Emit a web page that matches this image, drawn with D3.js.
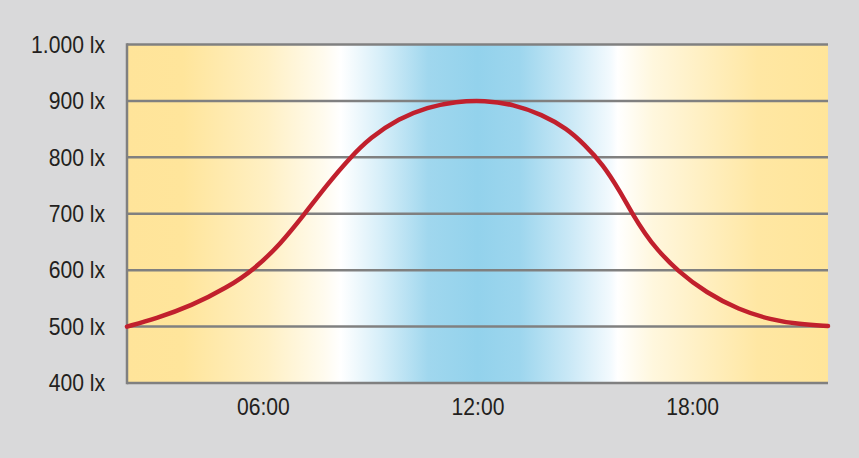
<!DOCTYPE html>
<html>
<head>
<meta charset="utf-8">
<script src="https://cdn.jsdelivr.net/npm/d3@7"></script>
<style>
  body { margin: 0; background: #d9d9da; }
  svg { display: block; }
</style>
</head>
<body>
<script>
// data: hours of the day and illuminance in lux
var hours = [2.2, 3.0, 4.0, 5.0, 5.77, 6.5, 7.17, 7.8, 8.43, 9.0, 9.8, 10.6, 11.4, 12.2,
             13.0, 13.8, 14.5, 15.0, 15.5, 16.0, 16.3, 16.7, 17.0, 17.6, 18.4, 19.3, 20.2, 21.0, 21.8];
var lux = [500, 514, 537, 569, 602, 647, 700, 752, 799, 835, 869, 889, 899, 901,
           894, 876, 851, 822, 788, 738, 703, 663, 638, 598, 560, 530, 512, 504, 501];

var xTicks = [6, 12, 18];
var xTickLabels = ["06:00", "12:00", "18:00"];
var yTicks = [400, 500, 600, 700, 800, 900, 1000];
var yTickLabels = ["400 lx", "500 lx", "600 lx", "700 lx", "800 lx", "900 lx", "1.000 lx"];

function init()
{
    var w = 859;
    var h = 458;
    var margin = {top: 44.5, right: 31, bottom: 75, left: 127};

    var svg = d3.select("body")
                .append("svg")
                .attr("width", w)
                .attr("height", h);

    var x = d3.scaleLinear()
              .domain([2.2, 21.8])
              .range([margin.left, w - margin.right]);

    var y = d3.scaleLinear()
              .domain([400, 1000])
              .range([h - margin.bottom, margin.top]);

    // daylight colour band behind the plot
    var grad = svg.append("defs")
                  .append("linearGradient")
                  .attr("id", "sky")
                  .attr("x1", "0%").attr("x2", "100%")
                  .attr("y1", "0%").attr("y2", "0%");

    var stops = [
        [0.00, "#ffe49a"], [0.08, "#ffe59b"], [0.20, "#fff0c4"], [0.28, "#fffbee"],
        [0.305, "#ffffff"], [0.36, "#d8eff9"], [0.43, "#a0d7ee"], [0.50, "#93d2ec"],
        [0.56, "#9dd6ee"], [0.63, "#c9e8f6"], [0.69, "#f3fafe"], [0.70, "#ffffff"],
        [0.75, "#fff7de"], [0.90, "#ffe7a3"], [1.00, "#ffe59a"]
    ];
    grad.selectAll("stop")
        .data(stops)
        .enter()
        .append("stop")
        .attr("offset", function(d) { return d[0]; })
        .attr("stop-color", function(d) { return d[1]; });

    svg.append("rect")
       .attr("x", x.range()[0])
       .attr("y", y(1000))
       .attr("width", x.range()[1] - x.range()[0])
       .attr("height", y(400) - y(1000))
       .attr("fill", "url(#sky)");

    // horizontal grid lines
    svg.selectAll("line.grid")
       .data(yTicks)
       .enter()
       .append("line")
       .attr("class", "grid")
       .attr("x1", x.range()[0])
       .attr("x2", x.range()[1])
       .attr("y1", function(d) { return y(d); })
       .attr("y2", function(d) { return y(d); })
       .attr("stroke", "#808080")
       .attr("stroke-width", 2.5);

    // left axis line
    svg.append("line")
       .attr("x1", x.range()[0])
       .attr("x2", x.range()[0])
       .attr("y1", y(1000) - 1.25)
       .attr("y2", y(400) + 1.25)
       .attr("stroke", "#808080")
       .attr("stroke-width", 2.5);

    // y labels
    var yAxis = d3.axisLeft(y)
                  .tickValues(yTicks)
                  .tickFormat(function(d, i) { return yTickLabels[i]; })
                  .tickSize(0)
                  .tickPadding(22);

    var gy = svg.append("g")
                .attr("transform", "translate(" + x.range()[0] + ",0)")
                .call(yAxis);
    gy.select(".domain").remove();

    // x labels
    var xAxis = d3.axisBottom(x)
                  .tickValues(xTicks)
                  .tickFormat(function(d, i) { return xTickLabels[i]; })
                  .tickSize(0)
                  .tickPadding(15);

    var gx = svg.append("g")
                .attr("transform", "translate(0," + y(400) + ")")
                .call(xAxis);
    gx.select(".domain").remove();

    // condensed look: squeeze the glyphs a little
    svg.selectAll(".tick text")
       .style("font-family", "'Liberation Sans Narrow', 'Liberation Sans', Arial, sans-serif")
       .style("font-size", "24px")
       .attr("fill", "#231f20")
       .each(function() {
           var bw = this.getComputedTextLength();
           d3.select(this)
             .attr("textLength", bw * 0.88)
             .attr("lengthAdjust", "spacingAndGlyphs");
       });

    // illuminance curve
    var line = d3.line()
                 .x(function(d, i) { return x(hours[i]); })
                 .y(function(d) { return y(d); })
                 .curve(d3.curveBasis);

    svg.append("path")
       .datum(lux)
       .attr("d", line)
       .attr("fill", "none")
       .attr("stroke", "#c1202d")
       .attr("stroke-width", 4.5)
       .attr("stroke-linecap", "round");
}
window.onload = init
</script>
</body>
</html>
